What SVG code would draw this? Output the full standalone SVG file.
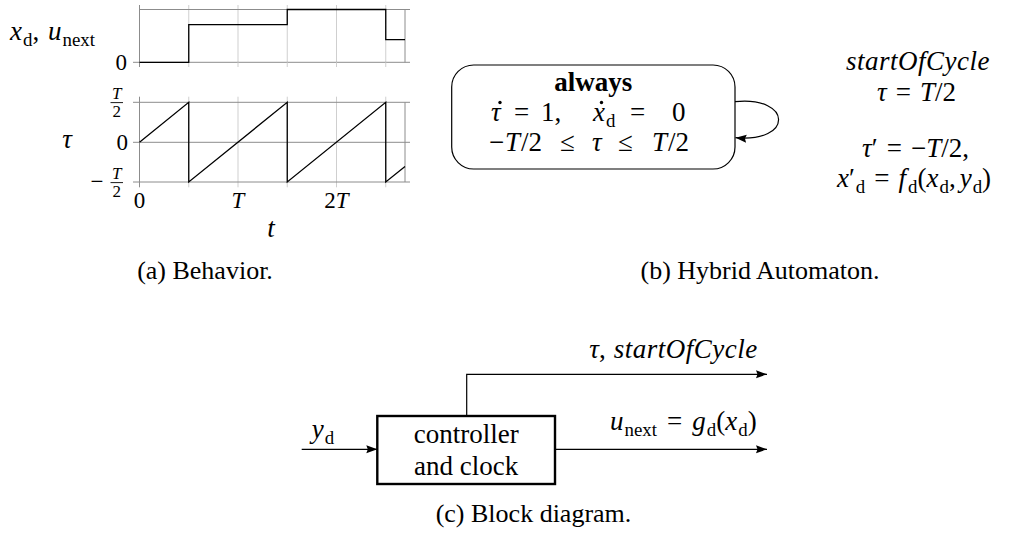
<svg xmlns="http://www.w3.org/2000/svg" width="1013" height="533" viewBox="0 0 1013 533">
  <style>
    text { font-family: "Liberation Serif", "DejaVu Serif", "Liberation Sans", serif; fill: #000; }
    .t { font-size: 23px; }
    .lab { font-size: 27px; }
    .big { font-size: 27px; }
    .cap { font-size: 26px; }
    .fr { font-size: 17px; }
    .i { font-style: italic; }
    .sub { font-size: 70%; font-style: normal; }
    .b { font-weight: bold; }
    .frame { stroke: #8c8c8c; stroke-width: 1; fill: none; }
    .grid { stroke: #cfcfcf; stroke-width: 1; fill: none; }
    .curve { stroke: #000; stroke-width: 1.3; fill: none; }
    .wire { stroke: #000; stroke-width: 1.2; fill: none; }
    .dot { fill: #000; }
  </style>
  <defs>
    <marker id="arrow" markerUnits="userSpaceOnUse" markerWidth="12" markerHeight="9" refX="11" refY="4.5" orient="auto">
      <path d="M0,0.5 L11,4.5 L0,8.5 L1.5,4.5 z" fill="#000"/>
    </marker>
  </defs>

  <rect width="1013" height="533" fill="#fff"/>

  <!-- (a) behaviour: state/input step plot -->
  <g id="plot-state">
    <path class="grid" d="M188.75,5 V62.3 M238,5 V62.3 M287.25,5 V62.3 M336.5,5 V62.3 M385.75,5 V62.3"/>
    <path class="frame" d="M139.5,5 V67 M139.5,9.5 H410 M133,62.3 H410 M405,9.5 V62.3"/>
    <path class="grid" d="M188.75,62.3 V67 M238,62.3 V67 M287.25,62.3 V67 M336.5,62.3 V67 M385.75,62.3 V67"/>
    <path class="curve" d="M139.5,62.3 H188.75 V24.7 H287.25 V9.5 H385.75 V39.7 H405"/>
    <text class="lab i" x="10" y="40">x<tspan class="sub" dx="1" dy="6">d</tspan><tspan dy="-6" font-style="normal">, </tspan><tspan dx="2">u</tspan><tspan class="sub" dx="1" dy="6">next</tspan></text>
    <text class="t" x="127" y="70" text-anchor="end">0</text>
  </g>

  <!-- (a) behaviour: clock sawtooth -->
  <g id="plot-clock">
    <path class="grid" d="M188.75,96.7 V187.3 M238,96.7 V187.3 M287.25,96.7 V187.3 M336.5,96.7 V187.3 M385.75,96.7 V187.3"/>
    <path class="frame" d="M139.5,96.7 V187.3 M133,102.3 H410 M133,142.3 H410 M133,182 H410 M405,102.3 V182"/>
    <path class="curve" d="M139.5,142.3 L188.75,102.3 V182 L287.25,102.3 V182 L385.75,102.3 V182 L405,166.4"/>
    <text class="lab i" x="67" y="148" text-anchor="middle">τ</text>
    <text class="t" x="128" y="150" text-anchor="end">0</text>
    <text class="fr i" x="116.7" y="99" text-anchor="middle">T</text>
    <line x1="110.5" y1="102.6" x2="123" y2="102.6" stroke="#000" stroke-width="0.9"/>
    <text class="fr" x="116.7" y="116.5" text-anchor="middle">2</text>
    <text class="t" x="97" y="189" text-anchor="middle">−</text>
    <text class="fr i" x="116.7" y="179" text-anchor="middle">T</text>
    <line x1="110.5" y1="182.6" x2="123" y2="182.6" stroke="#000" stroke-width="0.9"/>
    <text class="fr" x="116.7" y="196.5" text-anchor="middle">2</text>
    <text class="t" x="139.5" y="208.3" text-anchor="middle">0</text>
    <text class="t i" x="238" y="208.3" text-anchor="middle">T</text>
    <text class="t" x="336.5" y="208.3" text-anchor="middle">2<tspan class="i">T</tspan></text>
    <text class="lab i" x="271" y="236.7" text-anchor="middle">t</text>
  </g>

  <!-- (b) hybrid automaton: single location -->
  <g id="location-always">
    <rect x="451.7" y="65" width="283.3" height="104" rx="22" ry="22" fill="#fff" stroke="#000" stroke-width="1.2"/>
    <text class="big b" x="593.3" y="91" text-anchor="middle">always</text>
    <text class="big"><tspan class="i" x="491" y="121">τ</tspan><tspan x="514" y="121">=</tspan><tspan x="541" y="121">1,</tspan><tspan class="i" x="593" y="121">x</tspan><tspan class="sub" x="606" y="127">d</tspan><tspan x="630" y="121">=</tspan><tspan x="672" y="121">0</tspan></text>
    <circle class="dot" cx="500" cy="102.5" r="1.7"/>
    <circle class="dot" cx="601.5" cy="102.5" r="1.7"/>
    <text class="big"><tspan x="489" y="151">−</tspan><tspan class="i" x="505" y="151">T</tspan><tspan x="521" y="151">/2</tspan><tspan x="560" y="151">≤</tspan><tspan class="i" x="592" y="151">τ</tspan><tspan x="618" y="151">≤</tspan><tspan class="i" x="652" y="151">T</tspan><tspan x="668" y="151">/2</tspan></text>
  </g>

  <!-- self-loop transition and block-diagram signals -->
  <g id="connectors">
    <path class="wire" d="M735,101.7 C793,96 793,143 735.5,137.7" marker-end="url(#arrow)"/>
    <path class="wire" d="M301.7,449.3 H377.3" marker-end="url(#arrow)"/>
    <path class="wire" d="M466.7,416 V374.3 H767" marker-end="url(#arrow)"/>
    <path class="wire" d="M555,449.3 H767" marker-end="url(#arrow)"/>
  </g>

  <!-- guard and reset of the self-loop -->
  <g id="transition-label">
    <text class="big i" x="918" y="70" text-anchor="middle" letter-spacing="0.5">startOfCycle</text>
    <text class="big" x="916.5" y="101" text-anchor="middle"><tspan class="i">τ</tspan><tspan dx="9">=</tspan><tspan dx="9" class="i">T</tspan>/2</text>
    <text class="big" x="915.5" y="157" text-anchor="middle"><tspan class="i">τ</tspan>′<tspan dx="9">=</tspan><tspan dx="9">−</tspan><tspan class="i">T</tspan>/2,</text>
    <text class="big" x="914" y="187" text-anchor="middle"><tspan class="i">x</tspan>′<tspan class="sub" dx="1" dy="6">d</tspan><tspan dx="9" dy="-6">=</tspan><tspan dx="9" class="i">f</tspan><tspan class="sub" dx="2" dy="6">d</tspan><tspan dy="-6">(</tspan><tspan class="i">x</tspan><tspan class="sub" dx="1" dy="6">d</tspan><tspan dy="-6">,</tspan><tspan dx="4" class="i">y</tspan><tspan class="sub" dx="1" dy="6">d</tspan><tspan dy="-6">)</tspan></text>
  </g>

  <!-- (c) block diagram -->
  <g id="block-controller">
    <rect x="377.3" y="416" width="177.7" height="68" fill="#fff" stroke="#000" stroke-width="2.4"/>
    <text class="big" x="466.2" y="443.3" text-anchor="middle">controller</text>
    <text class="big" x="466.2" y="475" text-anchor="middle">and clock</text>
  </g>
  <g id="signal-labels">
    <text class="big i" x="311.7" y="438">y<tspan class="sub" dx="1" dy="6">d</tspan></text>
    <text class="big" x="757.7" y="358" text-anchor="end"><tspan class="i">τ</tspan>,<tspan dx="8" class="i" letter-spacing="0.5">startOfCycle</tspan></text>
    <text class="big" x="756.7" y="430" text-anchor="end"><tspan class="i">u</tspan><tspan class="sub" dx="1" dy="6">next</tspan><tspan dx="10" dy="-6">=</tspan><tspan dx="10" class="i">g</tspan><tspan class="sub" dx="1" dy="6">d</tspan><tspan dy="-6">(</tspan><tspan class="i">x</tspan><tspan class="sub" dx="1" dy="6">d</tspan><tspan dy="-6">)</tspan></text>
  </g>

  <!-- sub-figure captions -->
  <g id="captions">
    <text class="cap" x="205" y="279" text-anchor="middle">(a) Behavior.</text>
    <text class="cap" x="760" y="279" text-anchor="middle">(b) Hybrid Automaton.</text>
    <text class="cap" x="533.5" y="521.5" text-anchor="middle">(c) Block diagram.</text>
  </g>
</svg>
